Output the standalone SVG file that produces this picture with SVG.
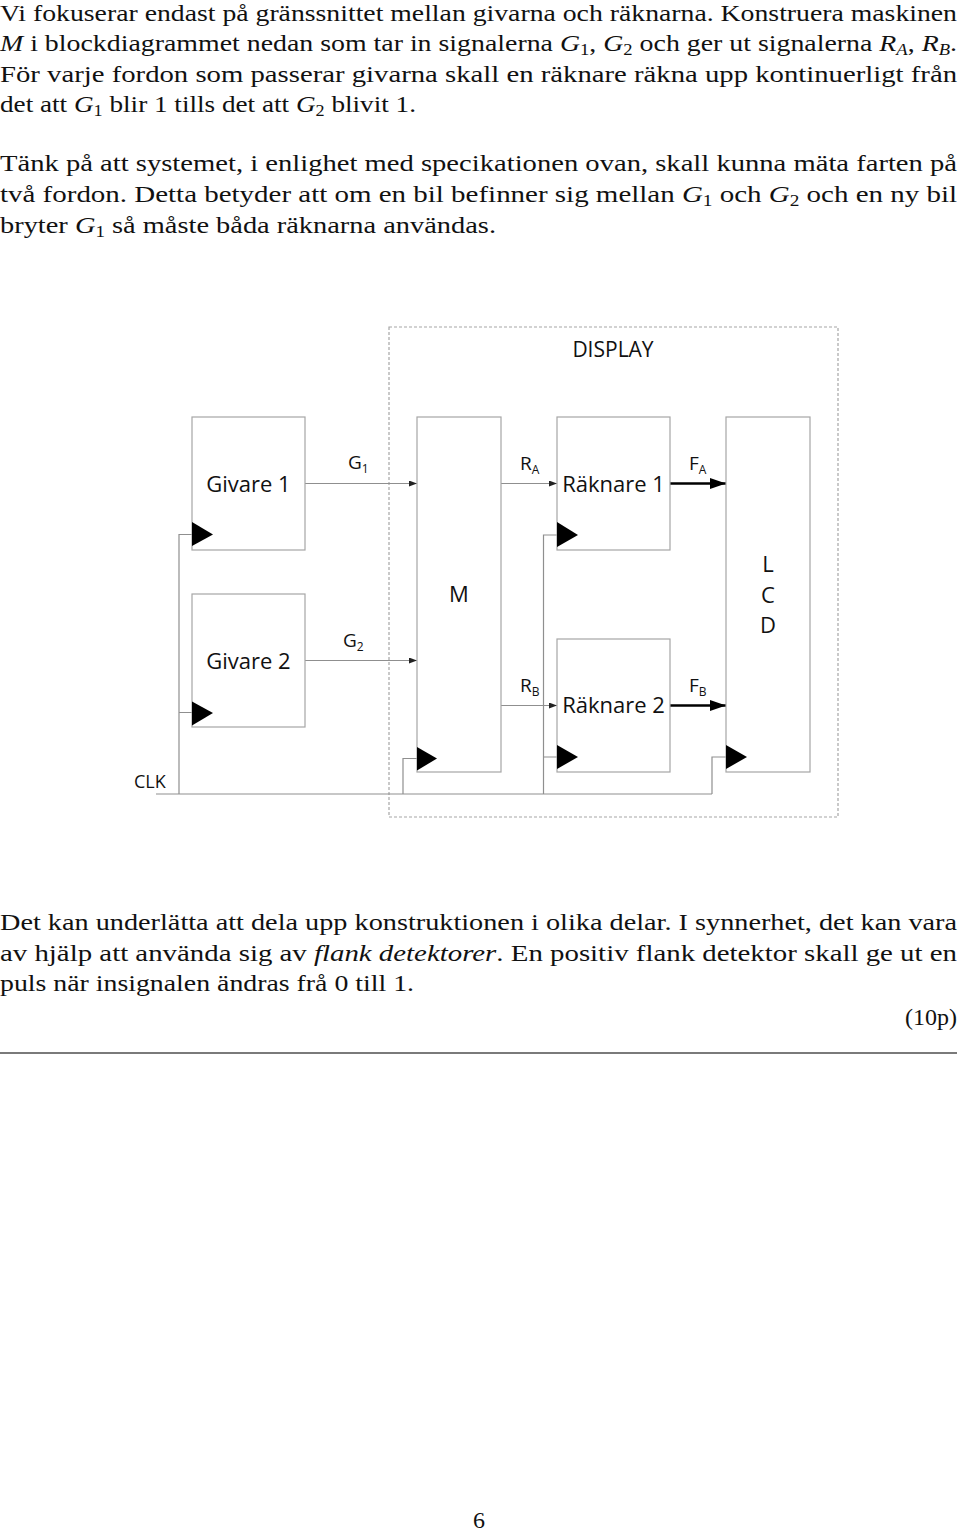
<svg xmlns="http://www.w3.org/2000/svg" width="960" height="1535" viewBox="0 0 960 1535">
<style>
.t{font-family:"Liberation Serif","Times New Roman",serif;font-size:24px;fill:#111}
.i{font-style:italic}
.s{font-size:16px}
.d{font-family:"Open Sans","Liberation Sans",sans-serif;fill:#111}
.lb{font-size:22px}
.sl{font-size:19px}
.ss{font-size:12px}
.box{fill:#fff;stroke:#a6a6a6;stroke-width:1.2}
.dash{fill:none;stroke:#a6a6a6;stroke-width:1.2;stroke-dasharray:3 2}
.w{fill:none;stroke:#8f8f8f;stroke-width:1.2}
.thin{fill:none;stroke:#8f8f8f;stroke-width:1.2;marker-end:url(#sa)}
.thick{fill:none;stroke:#000;stroke-width:2.6;marker-end:url(#ta)}
.clk{fill:#000}
</style>
<defs>
<marker id="sa" markerUnits="userSpaceOnUse" markerWidth="8" markerHeight="6" refX="8" refY="3" orient="auto"><path d="M0,0 L8,3 L0,6 z" fill="#222"/></marker>
<marker id="ta" markerUnits="userSpaceOnUse" markerWidth="16" markerHeight="11" refX="16" refY="5.5" orient="auto"><path d="M0,0 L16,5.5 L0,11 z" fill="#000"/></marker>
</defs>
<rect width="960" height="1535" fill="#fff"/>

<g id="text-top">
<text class="t" x="0" y="21" textLength="957" lengthAdjust="spacingAndGlyphs">Vi fokuserar endast på gränssnittet mellan givarna och räknarna. Konstruera maskinen</text>
<text class="t" x="0" y="51" textLength="957" lengthAdjust="spacingAndGlyphs"><tspan class="i">M</tspan> i blockdiagrammet nedan som tar in signalerna <tspan class="i">G</tspan><tspan class="s" dy="4">1</tspan><tspan dy="-4">, </tspan><tspan class="i">G</tspan><tspan class="s" dy="4">2</tspan><tspan dy="-4"> och ger ut signalerna </tspan><tspan class="i">R</tspan><tspan class="s i" dy="4">A</tspan><tspan dy="-4">, </tspan><tspan class="i">R</tspan><tspan class="s i" dy="4">B</tspan><tspan dy="-4">.</tspan></text>
<text class="t" x="0" y="82" textLength="957" lengthAdjust="spacingAndGlyphs">För varje fordon som passerar givarna skall en räknare räkna upp kontinuerligt från</text>
<text class="t" x="0" y="112" textLength="416" lengthAdjust="spacingAndGlyphs">det att <tspan class="i">G</tspan><tspan class="s" dy="4">1</tspan><tspan dy="-4"> blir 1 tills det att </tspan><tspan class="i">G</tspan><tspan class="s" dy="4">2</tspan><tspan dy="-4"> blivit 1.</tspan></text>

<text class="t" x="0" y="171" textLength="957" lengthAdjust="spacingAndGlyphs">Tänk på att systemet, i enlighet med specikationen ovan, skall kunna mäta farten på</text>
<text class="t" x="0" y="202" textLength="957" lengthAdjust="spacingAndGlyphs">två fordon. Detta betyder att om en bil befinner sig mellan <tspan class="i">G</tspan><tspan class="s" dy="4">1</tspan><tspan dy="-4"> och </tspan><tspan class="i">G</tspan><tspan class="s" dy="4">2</tspan><tspan dy="-4"> och en ny bil</tspan></text>
<text class="t" x="0" y="233" textLength="496" lengthAdjust="spacingAndGlyphs">bryter <tspan class="i">G</tspan><tspan class="s" dy="4">1</tspan><tspan dy="-4"> så måste båda räknarna användas.</tspan></text>
</g>

<g id="display-frame">
<rect class="dash" x="389" y="327" width="449" height="490"/>
<text class="d" x="613" y="357" font-size="21" text-anchor="middle">DISPLAY</text>
</g>

<g id="connectors">
<path class="w" d="M156,794 H712"/>
<path class="w" d="M179,794 V534.5 H192 M179,712.5 H192"/>
<path class="w" d="M403,794 V758.5 H417"/>
<path class="w" d="M543.5,794 V535 H557 M543.5,757 H557"/>
<path class="w" d="M712,794 V757 H726"/>
<path class="thin" d="M305,483.5 H417"/>
<path class="thin" d="M305,660.5 H417"/>
<path class="thin" d="M501,483.5 H557"/>
<path class="thin" d="M501,705.5 H557"/>
<path class="thick" d="M670,483.5 H726"/>
<path class="thick" d="M670,705.5 H726"/>
<text class="d sl" x="348" y="469">G<tspan class="ss" dy="4">1</tspan></text>
<text class="d sl" x="343" y="647">G<tspan class="ss" dy="4">2</tspan></text>
<text class="d sl" x="520" y="470">R<tspan class="ss" dy="4">A</tspan></text>
<text class="d sl" x="520" y="692">R<tspan class="ss" dy="4">B</tspan></text>
<text class="d sl" x="689" y="470">F<tspan class="ss" dy="4">A</tspan></text>
<text class="d sl" x="689" y="692">F<tspan class="ss" dy="4">B</tspan></text>
<text class="d" x="134" y="788" font-size="18">CLK</text>
</g>

<g id="givare1">
<rect class="box" x="192" y="417" width="113" height="133"/>
<text class="d lb" x="248.5" y="492" text-anchor="middle">Givare 1</text>
<path class="clk" d="M192,522 L213,534.5 L192,546 z"/>
</g>
<g id="givare2">
<rect class="box" x="192" y="594" width="113" height="133"/>
<text class="d lb" x="248.5" y="669" text-anchor="middle">Givare 2</text>
<path class="clk" d="M192,701.5 L213,713 L192,725.5 z"/>
</g>
<g id="m">
<rect class="box" x="417" y="417" width="84" height="355"/>
<text class="d lb" x="459" y="602" text-anchor="middle">M</text>
<path class="clk" d="M417,747 L437,758.5 L417,770.5 z"/>
</g>
<g id="raknare1">
<rect class="box" x="557" y="417" width="113" height="133"/>
<text class="d lb" x="613.5" y="492" text-anchor="middle">Räknare 1</text>
<path class="clk" d="M557,522 L578,535 L557,547 z"/>
</g>
<g id="raknare2">
<rect class="box" x="557" y="639" width="113" height="133"/>
<text class="d lb" x="613.5" y="713" text-anchor="middle">Räknare 2</text>
<path class="clk" d="M557,745 L578,757 L557,769 z"/>
</g>
<g id="lcd">
<rect class="box" x="726" y="417" width="84" height="355"/>
<text class="d lb" x="768" y="572" text-anchor="middle">L</text>
<text class="d lb" x="768" y="603" text-anchor="middle">C</text>
<text class="d lb" x="768" y="633" text-anchor="middle">D</text>
<path class="clk" d="M726,745 L747,757 L726,769 z"/>
</g>

<g id="text-bottom">
<text class="t" x="0" y="930" textLength="957" lengthAdjust="spacingAndGlyphs">Det kan underlätta att dela upp konstruktionen i olika delar. I synnerhet, det kan vara</text>
<text class="t" x="0" y="961" textLength="957" lengthAdjust="spacingAndGlyphs">av hjälp att använda sig av <tspan class="i">flank detektorer</tspan>. En positiv flank detektor skall ge ut en</text>
<text class="t" x="0" y="991" textLength="414" lengthAdjust="spacingAndGlyphs">puls när insignalen ändras frå 0 till 1.</text>
<text class="t" x="957" y="1025" text-anchor="end">(10p)</text>
<line x1="0" y1="1053" x2="957" y2="1053" stroke="#7a7a7a" stroke-width="2"/>
<text class="t" x="479" y="1528" text-anchor="middle">6</text>
</g>
</svg>
